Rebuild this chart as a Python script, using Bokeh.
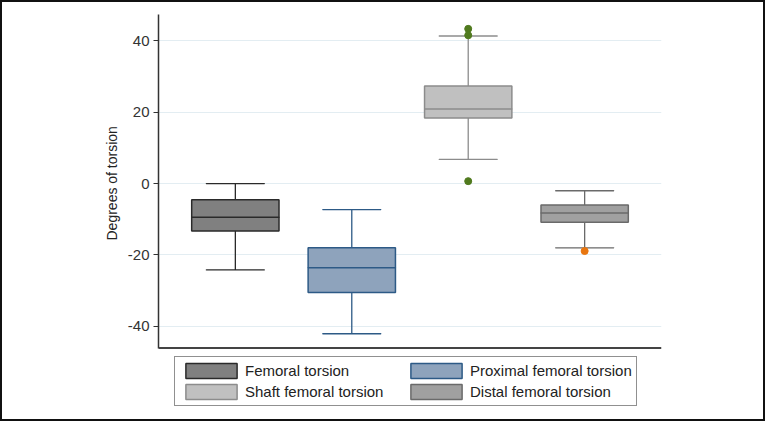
from bokeh.plotting import figure
from bokeh.models import (ColumnDataSource, Range1d, FactorRange, Legend, LegendItem,
                          FixedTicker, PrintfTickFormatter, Span, Title, InlineStyleSheet)
from bokeh.embed import file_html
from bokeh.resources import INLINE

# ---- data ----
groups = ["Femoral torsion", "Proximal femoral torsion", "Shaft femoral torsion", "Distal femoral torsion"]
upper_whisker = [0.0, -7.3, 41.4, -2.0]
q3 = [-4.5, -18.0, 27.4, -6.0]
median = [-9.4, -23.6, 20.9, -8.2]
q1 = [-13.3, -30.5, 18.4, -10.8]
lower_whisker = [-24.2, -42.1, 6.8, -18.0]
outlier_group = ["Shaft femoral torsion", "Shaft femoral torsion", "Shaft femoral torsion", "Distal femoral torsion"]
outlier_value = [43.4, 41.6, 0.7, -18.9]
yticks = [-40, -20, 0, 20, 40]
y_axis_min, y_axis_max = -46.1, 47.43

# ---- styles ----
fills = ["#808080", "#8ea3bc", "#c0c0c0", "#a0a0a0"]
lines = ["#2a2a2a", "#2d5a86", "#8c8c8c", "#6a6a6a"]
outlier_colors = ["#507a1e", "#507a1e", "#507a1e", "#e8760f"]

src = ColumnDataSource(dict(g=groups, uw=upper_whisker, q3=q3, med=median, q1=q1,
                            lw=lower_whisker, fill=fills, line=lines))
osrc = ColumnDataSource(dict(g=outlier_group, v=outlier_value, c=outlier_colors))

# frame extends below the axis baseline to host the legend
p = figure(width=765, height=421, output_backend="svg", toolbar_location=None,
           x_range=FactorRange(*groups, range_padding=0.16, range_padding_units="absolute"),
           y_range=Range1d(-66.7, y_axis_max),
           min_border_left=158, min_border_right=104, min_border_top=14, min_border_bottom=0)
p.outline_line_color = None
p.background_fill_color = "white"
p.border_fill_color = "white"
p.stylesheets = [InlineStyleSheet(css="""
:host { position: relative; }
:host::after { content: ""; position: absolute; left: 0; top: 0; right: 0; bottom: 0;
  border: 2px solid #111111; box-sizing: border-box; pointer-events: none; z-index: 100; }
""")]

# whiskers
p.segment(x0="g", y0="q3", x1="g", y1="uw", source=src, line_color="line", line_width=1.3)
p.segment(x0="g", y0="q1", x1="g", y1="lw", source=src, line_color="line", line_width=1.3)
p.rect(x="g", y="uw", width=0.5, height=0.0001, source=src, line_color="line", line_width=1.3, fill_color=None)
p.rect(x="g", y="lw", width=0.5, height=0.0001, source=src, line_color="line", line_width=1.3, fill_color=None)

# boxes
renderers = []
for i, gname in enumerate(groups):
    sub = ColumnDataSource(dict(g=[gname], top=[q3[i]], bottom=[q1[i]]))
    r = p.vbar(x="g", top="top", bottom="bottom", width=0.75, source=sub,
               fill_color=fills[i], line_color=lines[i], line_width=1.5)
    renderers.append(r)
# medians
p.rect(x="g", y="med", width=0.75, height=0.0001, source=src, line_color="line", line_width=1.5, fill_color=None)

# outliers
p.scatter(x="g", y="v", source=osrc, size=7, fill_color="c", line_color="c")

# y axis
p.yaxis.ticker = FixedTicker(ticks=yticks)
p.yaxis.bounds = (y_axis_min, y_axis_max)
p.yaxis.formatter = PrintfTickFormatter(format="%d")
p.yaxis.major_label_text_font = "Liberation Sans"
p.yaxis.major_label_text_font_size = "15px"
p.yaxis.major_label_text_color = "#333333"
p.yaxis.major_label_orientation = "horizontal"
p.yaxis.major_label_standoff = 4
p.yaxis.major_tick_out = 5
p.yaxis.major_tick_in = 0
p.yaxis.minor_tick_line_color = None
p.yaxis.axis_line_color = "#333333"
p.yaxis.axis_line_width = 1.5
p.yaxis.major_tick_line_color = "#333333"

# y axis title, centred on the axis span (not on the taller frame)
ytitle = Title(text="Degrees of torsion", align="left", offset=181,
               text_font="Liberation Sans", text_font_size="14px", text_font_style="normal",
               text_color="#222222", standoff=10)
p.add_layout(ytitle, "left")

# x axis: only a baseline
p.xaxis.visible = False
p.add_layout(Span(location=y_axis_min, dimension="width", line_color="#444444", line_width=2))
p.xgrid.grid_line_color = None
p.ygrid.ticker = FixedTicker(ticks=yticks)
p.ygrid.grid_line_color = "#e3edf2"
p.ygrid.grid_line_width = 1

# legend
items = [LegendItem(label=groups[i], renderers=[renderers[i]]) for i in [0, 2, 1, 3]]
legend = Legend(items=items, ncols=2, location=(16, 15))
legend.label_text_font = "Liberation Sans"
legend.label_text_font_size = "15px"
legend.label_text_color = "#222222"
legend.glyph_width = 64
legend.glyph_height = 19
legend.label_height = 17
legend.label_width = 157
legend.label_standoff = 2
legend.spacing = 2
legend.padding = 4
legend.margin = 0
legend.border_line_color = "#222222"
legend.border_line_width = 1.5
legend.background_fill_color = "white"
p.add_layout(legend, "center")

open("out.html", "w").write(file_html(p, INLINE))
